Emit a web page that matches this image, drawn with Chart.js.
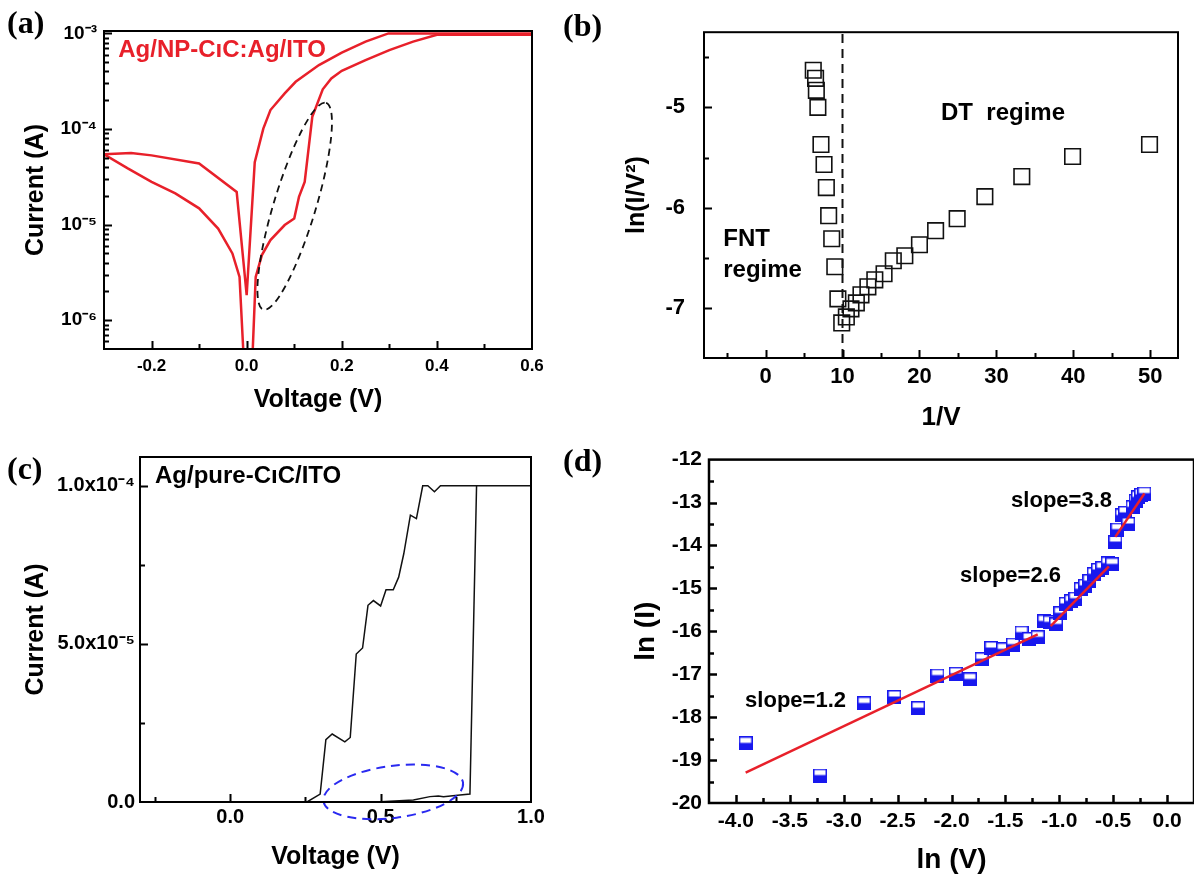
<!DOCTYPE html>
<html lang="en">
<head>
<meta charset="UTF-8">
<title>I-V characteristics, four panels</title>
<style>
  body { margin: 0; background: #fff; width: 1194px; height: 881px; position: relative; overflow: hidden; }
  canvas { position: absolute; }
  .tag { position: absolute; font: bold 32px "Liberation Serif", "Times New Roman", serif; line-height: 32px; color: #000; z-index: 2; }
</style>
<script src="https://cdn.jsdelivr.net/npm/chart.js"></script>
</head>
<body>
<canvas id="chartA" width="560" height="430" style="left:0;top:0"></canvas>
<canvas id="chartB" width="614" height="440" style="left:580px;top:0"></canvas>
<canvas id="chartC" width="560" height="441" style="left:0;top:440px"></canvas>
<canvas id="chartD" width="604" height="441" style="left:590px;top:440px"></canvas>
<div class="tag" style="left:7px;top:6px">(a)</div>
<div class="tag" style="left:563px;top:9px">(b)</div>
<div class="tag" style="left:7px;top:452px">(c)</div>
<div class="tag" style="left:563px;top:444px">(d)</div>
<script>
// ---- (a) Ag/NP-CiC:Ag/ITO, current on log scale ----
const aSweep1V = [-0.3, -0.243, -0.2, -0.1, -0.021, 0.0, 0.017, 0.035, 0.05, 0.08, 0.103, 0.152, 0.2, 0.25, 0.298, 0.6];
const aSweep1I = [5.45e-5, 5.6e-5, 5.3e-5, 4.36e-5, 2.2e-5, 1.83e-6, 4.5e-5, 1.01e-4, 1.58e-4, 2.36e-4, 3.12e-4, 4.67e-4, 6.28e-4, 8.2e-4, 1.0e-3, 1.0e-3];
const aSweep2V = [-0.3, -0.25, -0.2, -0.15, -0.1, -0.06, -0.03, -0.015, -0.005, 0.011, 0.019, 0.032, 0.05, 0.08, 0.1, 0.11, 0.122, 0.138, 0.16, 0.178, 0.2, 0.25, 0.3, 0.35, 0.4, 0.6];
const aSweep2I = [5.45e-5, 3.87e-5, 2.8e-5, 2.12e-5, 1.48e-5, 9.1e-6, 5.0e-6, 2.84e-6, 3e-7, 3e-7, 2.84e-6, 4.8e-6, 6.9e-6, 9.9e-6, 1.16e-5, 1.95e-5, 2.8e-5, 1.34e-4, 2.6e-4, 3.38e-4, 4.07e-4, 5.26e-4, 6.7e-4, 8.2e-4, 9.7e-4, 9.7e-4];
const aTicksX = [-0.2, 0, 0.2, 0.4, 0.6];
const aLabelsX = ['-0.2', '0.0', '0.2', '0.4', '0.6'];
const aTicksY = [1e-6, 1e-5, 1e-4, 1e-3];
const aLabelsY = ['10⁻⁶', '10⁻⁵', '10⁻⁴', '10⁻³'];

// ---- (b) ln(I/V^2) vs 1/V ----
const bInvV = [6.2, 6.5, 6.6, 6.8, 7.2, 7.6, 7.9, 8.2, 8.6, 9.0, 9.4, 9.9, 10.5, 11.1, 11.8, 12.4, 13.3, 14.2, 15.4, 16.6, 18.1, 20.0, 22.1, 24.9, 28.5, 33.3, 39.9, 49.9];
const bLnIV2 = [-4.63, -4.71, -4.83, -5.00, -5.37, -5.57, -5.80, -6.08, -6.31, -6.59, -6.91, -7.15, -7.09, -7.01, -6.95, -6.87, -6.79, -6.72, -6.66, -6.53, -6.48, -6.37, -6.23, -6.11, -5.89, -5.69, -5.49, -5.37];
const bBoundary = 10;
const bTicksX = [0, 10, 20, 30, 40, 50];
const bLabelsX = ['0', '10', '20', '30', '40', '50'];
const bTicksY = [-7, -6, -5];
const bLabelsY = ['-7', '-6', '-5'];

// ---- (c) Ag/pure-CiC/ITO, linear current ----
const cV = [-0.3, 0.255, 0.299, 0.318, 0.339, 0.381, 0.399, 0.419, 0.440, 0.458, 0.476, 0.500, 0.518, 0.542, 0.560, 0.577, 0.599, 0.619, 0.640, 0.657, 0.679, 0.699, 1.0, 0.819, 0.797, 0.764, 0.709, 0.692, 0.664, 0.609, 0.50, 0.40, 0.255];
const cI = [0, 0, 2.5e-6, 19.7e-6, 21.5e-6, 19.0e-6, 20.4e-6, 46.8e-6, 48.7e-6, 62.2e-6, 63.7e-6, 62.0e-6, 67.1e-6, 67.1e-6, 71.1e-6, 78.5e-6, 90.7e-6, 89.6e-6, 100e-6, 100e-6, 98.1e-6, 100e-6, 100e-6, 100e-6, 2.5e-6, 2.2e-6, 1.7e-6, 1.9e-6, 1.7e-6, 0.6e-6, 0.1e-6, 0, 0];
const cTicksX = [0, 0.5, 1.0];
const cLabelsX = ['0.0', '0.5', '1.0'];
const cTicksY = [0, 5e-5, 1e-4];
const cLabelsY = ['0.0', '5.0x10⁻⁵', '1.0x10⁻⁴'];

// ---- (d) ln(I) vs ln(V) with fitted slopes ----
const dLnV = [-3.91, -3.22, -2.81, -2.53, -2.31, -2.13, -1.96, -1.83, -1.72, -1.63, -1.52, -1.43, -1.35, -1.28, -1.20, -1.14, -1.09, -1.03, -0.99, -0.94, -0.89, -0.85, -0.80, -0.76, -0.72, -0.68, -0.64, -0.60, -0.55, -0.51, -0.48, -0.46, -0.42, -0.39, -0.36, -0.32, -0.29, -0.27, -0.24, -0.21];
const dLnI = [-18.61, -19.36, -17.68, -17.53, -17.79, -17.03, -16.99, -17.12, -16.65, -16.39, -16.42, -16.31, -16.03, -16.18, -16.14, -15.77, -15.79, -15.84, -15.58, -15.36, -15.30, -15.24, -15.02, -14.94, -14.83, -14.67, -14.57, -14.53, -14.42, -14.44, -13.92, -13.63, -13.30, -13.24, -13.50, -13.11, -12.96, -12.88, -12.82, -12.79];
const dFit1X = [-3.91, -1.20], dFit1Y = [-19.29, -16.07];
const dFit2X = [-1.08, -0.54], dFit2Y = [-15.88, -14.49];
const dFit3X = [-0.48, -0.21], dFit3Y = [-13.80, -12.79];
const dTicksX = [-4.0, -3.5, -3.0, -2.5, -2.0, -1.5, -1.0, -0.5, 0.0];
const dLabelsX = ['-4.0', '-3.5', '-3.0', '-2.5', '-2.0', '-1.5', '-1.0', '-0.5', '0.0'];
const dTicksY = [-20, -19, -18, -17, -16, -15, -14, -13, -12];
const dLabelsY = ['-20', '-19', '-18', '-17', '-16', '-15', '-14', '-13', '-12'];

Chart.defaults.font.family = '"Liberation Sans", Arial, sans-serif';
Chart.defaults.color = '#000';

const RED = '#e8202a';
const BLUE = '#1818ee';
const FONT = '"Liberation Sans", Arial, sans-serif';

function pts(xs, ys) { return xs.map((x, i) => ({ x: x, y: ys[i] })); }

// box around the plot area plus inward tick marks
const framePlugin = {
  id: 'frame',
  afterDraw(chart, args, o) {
    const { ctx, chartArea: a, scales } = chart;
    const sx = scales.x, sy = scales.y;
    const inside = (s, v) => v > s.min && v < s.max;
    ctx.save();
    ctx.strokeStyle = '#000';
    ctx.lineWidth = o.lineWidth || 2;
    ctx.beginPath();
    const xt = (vals, len) => vals.filter(v => inside(sx, v)).forEach(v => {
      const p = Math.round(sx.getPixelForValue(v)) + 0.5;
      ctx.moveTo(p, a.bottom); ctx.lineTo(p, a.bottom - len);
    });
    const yt = (vals, len) => vals.filter(v => inside(sy, v)).forEach(v => {
      const p = Math.round(sy.getPixelForValue(v)) + 0.5;
      ctx.moveTo(a.left, p); ctx.lineTo(a.left + len, p);
    });
    xt(sx.ticks.map(t => t.value), 8);
    xt(o.xMinor || [], 5);
    yt(sy.ticks.map(t => t.value), 8);
    yt(o.yMinor || [], 5);
    ctx.stroke();
    ctx.strokeRect(a.left, a.top, a.right - a.left, a.bottom - a.top);
    ctx.restore();
  }
};

// free text and dashed ellipses placed in data coordinates
const notePlugin = {
  id: 'notes',
  afterDatasetsDraw(chart, args, o) {
    const { ctx, scales } = chart;
    const sx = scales.x, sy = scales.y;
    ctx.save();
    (o.ellipses || []).forEach(e => {
      const x1 = sx.getPixelForValue(e.from[0]), y1 = sy.getPixelForValue(e.from[1]);
      const x2 = sx.getPixelForValue(e.to[0]), y2 = sy.getPixelForValue(e.to[1]);
      ctx.beginPath();
      ctx.ellipse((x1 + x2) / 2, (y1 + y2) / 2, Math.hypot(x2 - x1, y2 - y1) / 2, e.minor,
        Math.atan2(y2 - y1, x2 - x1), 0, Math.PI * 2);
      ctx.setLineDash(e.dash);
      ctx.lineWidth = e.width;
      ctx.strokeStyle = e.color;
      ctx.stroke();
    });
    ctx.setLineDash([]);
    ctx.textAlign = 'left';
    ctx.textBaseline = 'middle';
    (o.texts || []).forEach(t => {
      ctx.font = t.font;
      ctx.fillStyle = t.color || '#000';
      ctx.fillText(t.text, sx.getPixelForValue(t.x), sy.getPixelForValue(t.y));
    });
    ctx.restore();
  }
};

function axis(o) {
  return {
    type: o.type || 'linear',
    min: o.min,
    max: o.max,
    afterBuildTicks: s => { s.ticks = o.ticks.map(v => ({ value: v })); },
    afterFit: s => {
      if (o.width) s.width = o.width;
      if (o.height) s.height = o.height;
    },
    grid: { display: false, drawTicks: false },
    border: { display: false },
    ticks: {
      color: '#000', autoSkip: false, maxRotation: 0, padding: o.pad,
      font: { size: o.tickSize, weight: 'bold' },
      callback: (v, i) => o.labels[i]
    },
    title: {
      display: true, text: o.title, color: '#000',
      font: { size: o.titleSize, weight: 'bold' },
      padding: o.titlePad
    }
  };
}

function baseOptions(pad, scales, frame, notes) {
  return {
    responsive: false,
    animation: false,
    devicePixelRatio: 1,
    layout: { padding: pad, autoPadding: false },
    scales: scales,
    plugins: { legend: { display: false }, tooltip: { enabled: false }, frame: frame, notes: notes }
  };
}

// log minor ticks for panel (a)
const aMinorY = [];
[1e-7, 1e-6, 1e-5, 1e-4].forEach(d => { for (let k = 2; k <= 9; k++) aMinorY.push(k * d); });

new Chart(document.getElementById('chartA'), {
  type: 'scatter',
  data: {
    datasets: [
      { data: pts(aSweep1V, aSweep1I), showLine: true, borderColor: RED, borderWidth: 2.5, pointRadius: 0 },
      { data: pts(aSweep2V, aSweep2I), showLine: true, borderColor: RED, borderWidth: 2.5, pointRadius: 0 }
    ]
  },
  options: baseOptions({ top: 31, right: 28, left: 0, bottom: 0 }, {
    x: axis({ min: -0.3, max: 0.6, ticks: aTicksX, labels: aLabelsX, height: 81, pad: 7, tickSize: 17,
      title: 'Voltage (V)', titleSize: 25, titlePad: { top: 0, bottom: 15 } }),
    y: axis({ type: 'logarithmic', min: 5e-7, max: 1.06e-3, ticks: aTicksY, labels: aLabelsY, width: 104, pad: 7, tickSize: 19,
      title: 'Current (A)', titleSize: 25, titlePad: { top: 21, bottom: 0 } })
  }, { lineWidth: 2, xMinor: [-0.1, 0.1, 0.3, 0.5], yMinor: aMinorY }, {
    texts: [{ text: 'Ag/NP-CıC:Ag/ITO', x: -0.27, y: 6.7e-4, color: RED, font: 'bold 24px ' + FONT }],
    ellipses: [{ from: [0.035, 1.29e-6], to: [0.167, 1.88e-4], minor: 21, color: '#111', width: 1.8, dash: [7, 5] }]
  }),
  plugins: [framePlugin, notePlugin]
});

new Chart(document.getElementById('chartB'), {
  type: 'scatter',
  data: {
    datasets: [
      { data: pts(bInvV, bLnIV2), pointStyle: 'rect', pointRadius: 11, borderWidth: 1.6,
        borderColor: '#111', backgroundColor: 'rgba(0,0,0,0)' },
      { data: pts([bBoundary, bBoundary], [-7.5, -4.25]), showLine: true, borderColor: '#111', borderWidth: 2,
        borderDash: [9, 6], pointRadius: 0 }
    ]
  },
  options: baseOptions({ top: 18, right: 16, left: 0, bottom: 0 }, {
    x: axis({ min: -8, max: 53.6, ticks: bTicksX, labels: bLabelsX, height: 82, pad: 6, tickSize: 22,
      title: '1/V', titleSize: 26, titlePad: { top: 0, bottom: 7 } }),
    y: axis({ min: -7.5, max: -4.25, ticks: bTicksY, labels: bLabelsY, width: 124, pad: 19, tickSize: 22,
      title: 'ln(I/V²)', titleSize: 25, titlePad: { top: 42, bottom: 0 } })
  }, { lineWidth: 2, xMinor: [-5, 5, 15, 25, 35, 45], yMinor: [-6.5, -5.5, -4.5] }, {
    texts: [
      { text: 'DT  regime', x: 22.8, y: -5.06, font: 'bold 24px ' + FONT },
      { text: 'FNT', x: -5.5, y: -6.32, font: 'bold 24px ' + FONT },
      { text: 'regime', x: -5.5, y: -6.63, font: 'bold 24px ' + FONT }
    ]
  }),
  plugins: [framePlugin, notePlugin]
});

new Chart(document.getElementById('chartC'), {
  type: 'scatter',
  data: {
    datasets: [
      { data: pts(cV, cI), showLine: true, borderColor: '#111', borderWidth: 1.5, pointRadius: 0 }
    ]
  },
  options: baseOptions({ top: 14, right: 29, left: 0, bottom: 0 }, {
    x: axis({ min: -0.3, max: 1.0, ticks: cTicksX, labels: cLabelsX, height: 79, pad: 3, tickSize: 20,
      title: 'Voltage (V)', titleSize: 25, titlePad: { top: 0, bottom: 9 } }),
    y: axis({ min: 0, max: 1.091e-4, ticks: cTicksY, labels: cLabelsY, width: 140, pad: 5, tickSize: 20,
      title: 'Current (A)', titleSize: 25, titlePad: { top: 21, bottom: 0 } })
  }, { lineWidth: 2, xMinor: [-0.25, 0.25, 0.75], yMinor: [2.5e-5, 7.5e-5] }, {
    texts: [{ text: 'Ag/pure-CıC/ITO', x: -0.25, y: 1.031e-4, font: 'bold 24px ' + FONT }],
    ellipses: [{ from: [0.31, 0.3e-6], to: [0.774, 6.1e-6], minor: 26, color: '#2a2af0', width: 2, dash: [9, 6] }]
  }),
  plugins: [framePlugin, notePlugin]
});

// half-filled square marker
const halfSquare = document.createElement('canvas');
halfSquare.width = 14; halfSquare.height = 14;
(function () {
  const g = halfSquare.getContext('2d');
  g.fillStyle = '#fff'; g.fillRect(0, 0, 14, 14);
  g.fillStyle = BLUE; g.fillRect(0, 6.5, 14, 7.5);
  g.strokeStyle = BLUE; g.lineWidth = 1.5; g.strokeRect(0.75, 0.75, 12.5, 12.5);
})();

new Chart(document.getElementById('chartD'), {
  type: 'scatter',
  data: {
    datasets: [
      { data: pts(dFit1X, dFit1Y), showLine: true, borderColor: RED, borderWidth: 2.5, pointRadius: 0 },
      { data: pts(dFit2X, dFit2Y), showLine: true, borderColor: RED, borderWidth: 2.5, pointRadius: 0 },
      { data: pts(dFit3X, dFit3Y), showLine: true, borderColor: RED, borderWidth: 2.5, pointRadius: 0 },
      { data: pts(dLnV, dLnI), pointStyle: halfSquare, pointRadius: 7 }
    ]
  },
  options: baseOptions({ top: 7, right: 0, left: 0, bottom: 0 }, {
    x: axis({ min: -4.25, max: 0.25, ticks: dTicksX, labels: dLabelsX, height: 78, pad: 6, tickSize: 21,
      title: 'ln (V)', titleSize: 28, titlePad: { top: 0, bottom: 4 } }),
    y: axis({ min: -20, max: -12, ticks: dTicksY, labels: dLabelsY, width: 119, pad: 7, tickSize: 21,
      title: 'ln (I)', titleSize: 28, titlePad: { top: 39, bottom: 0 } })
  }, { lineWidth: 2.5, xMinor: [-3.75, -3.25, -2.75, -2.25, -1.75, -1.25, -0.75, -0.25],
       yMinor: [-19.5, -18.5, -17.5, -16.5, -15.5, -14.5, -13.5, -12.5] }, {
    texts: [
      { text: 'slope=3.8', x: -1.447, y: -12.97, font: 'bold 22px ' + FONT },
      { text: 'slope=2.6', x: -1.92, y: -14.72, font: 'bold 22px ' + FONT },
      { text: 'slope=1.2', x: -3.915, y: -17.62, font: 'bold 22px ' + FONT }
    ]
  }),
  plugins: [framePlugin, notePlugin]
});
</script>
</body>
</html>
